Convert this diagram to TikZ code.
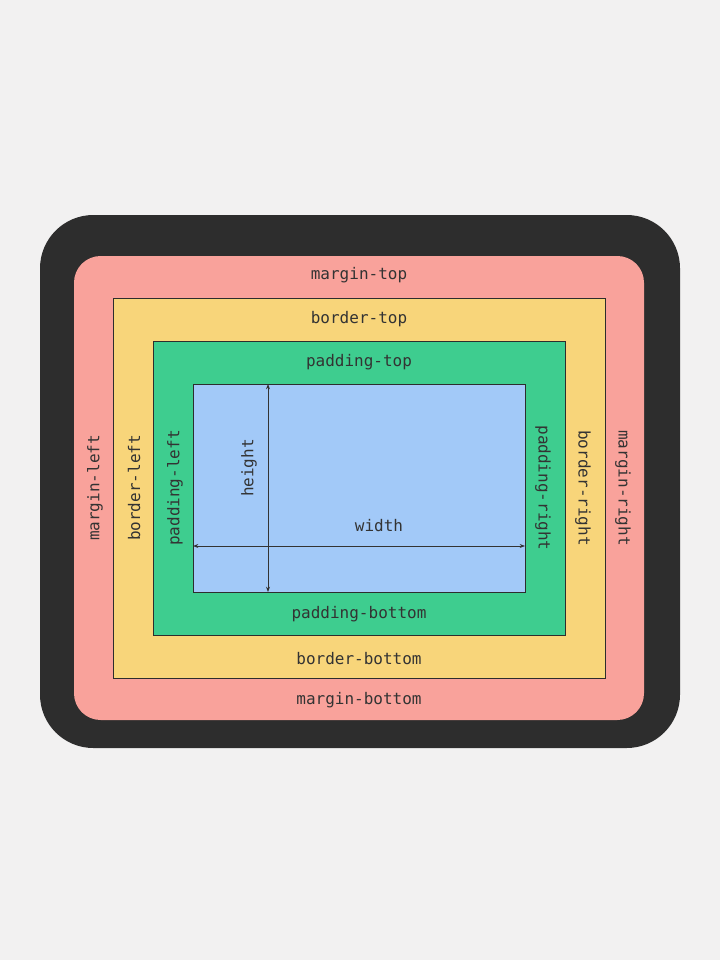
\documentclass[tikz,border=0pt]{standalone}
\usepackage{fontspec}
\setmonofont{DejaVu Sans Mono}
\usetikzlibrary{arrows.meta}
\definecolor{bg}{HTML}{F2F1F1}
\definecolor{dark}{HTML}{2D2D2D}
\definecolor{pinkc}{HTML}{F9A29B}
\definecolor{yel}{HTML}{F8D57A}
\definecolor{grn}{HTML}{3ECD8F}
\definecolor{blu}{HTML}{A2C9F8}
\definecolor{txt}{HTML}{333333}
\tikzset{lbl/.style={font=\ttfamily\fontsize{12}{14}\selectfont,text=txt},
 dim/.style={draw=txt,line width=0.6pt,{Stealth[length=4pt]}-{Stealth[length=4pt]}}}
\begin{document}
\begin{tikzpicture}[x=0.75pt,y=-0.75pt]
\fill[bg] (0,0) rectangle (720,960);
\useasboundingbox (0,0) rectangle (720,960);
\fill[dark,rounded corners=40] (40,215) rectangle (680,748);
\fill[pinkc,rounded corners=20] (74,256) rectangle (644,720);
\draw[fill=yel,draw=dark,line width=0.5pt] (113,298) rectangle (605,678);
\draw[fill=grn,draw=dark,line width=0.5pt] (153,341) rectangle (565,635);
\draw[fill=blu,draw=dark,line width=0.5pt] (193,384) rectangle (525,592);
\coordinate (ht) at (268,384); \coordinate (hb) at (268,592);
\coordinate (wl) at (193,546); \coordinate (wr) at (525,546);
\draw[dim] (ht) -- (hb);
\draw[dim] (wl) -- (wr);
\node[lbl] (mt) at (359,275) {margin-top};
\node[lbl] (bt) at (359,319) {border-top};
\node[lbl] (pt) at (359,362) {padding-top};
\node[lbl] (w) at (379,526) {width};
\node[lbl] (pb) at (359,614) {padding-bottom};
\node[lbl] (bb) at (359,659) {border-bottom};
\node[lbl] (mb) at (359,700) {margin-bottom};
\node[lbl,rotate=90] (ml) at (95,488) {margin-left};
\node[lbl,rotate=90] (bl) at (134,488) {border-left};
\node[lbl,rotate=90] (pl) at (175,488) {padding-left};
\node[lbl,rotate=90] (h) at (249,468) {height};
\node[lbl,rotate=-90] (pr) at (543,488) {padding-right};
\node[lbl,rotate=-90] (br) at (583,488) {border-right};
\node[lbl,rotate=-90] (mr) at (623,488) {margin-right};
\end{tikzpicture}
\end{document}
